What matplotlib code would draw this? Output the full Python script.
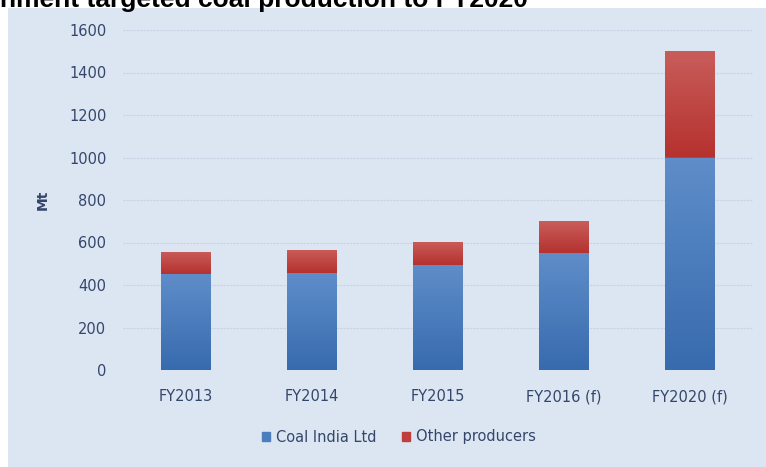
import matplotlib.pyplot as plt
import numpy as np
from matplotlib.colors import LinearSegmentedColormap
from matplotlib.patches import Patch, Rectangle

categories = ["FY2013", "FY2014", "FY2015", "FY2016 (f)", "FY2020 (f)"]
coal_india = [450, 455, 494, 550, 1000]
other_producers = [105, 110, 110, 150, 500]
y_ticks = [0, 200, 400, 600, 800, 1000, 1200, 1400, 1600]

BG = "#DCE6F2"
BLUE = "#4A7EBE"
RED = "#BF3F3C"
TEXT = "#34466B"

plt.rcParams["font.family"] = ["DejaVu Sans"]


def shade(ax, bars, top, bottom):
    # vertical gradient like the Excel fill, clipped to each bar
    cmap = LinearSegmentedColormap.from_list("g", [bottom, top])
    grad = np.linspace(0, 1, 64).reshape(-1, 1)
    for b in bars:
        x0, y0 = b.get_x(), b.get_y()
        im = ax.imshow(grad, cmap=cmap, origin="lower", aspect="auto", zorder=3,
                       extent=(x0, x0 + b.get_width(), y0, y0 + b.get_height()))
        im.set_clip_path(b)


fig = plt.figure(figsize=(7.66, 4.67), dpi=100)
fig.patch.set_facecolor("white")
fig.patches.append(Rectangle((8 / 766, 0), 1, 1 - 8 / 467, transform=fig.transFigure,
                             facecolor=BG, edgecolor="none", zorder=-10))

fig.text(0, 1 - 7 / 467, "nment targeted coal production to FY2020",
         fontsize=19, fontweight="bold", family="Liberation Sans", va="baseline", ha="left")

ax = fig.add_axes([123 / 766, 97 / 467, 630 / 766, 340 / 467])
ax.set_facecolor("none")
x = range(len(categories))
b1 = ax.bar(x, coal_india, width=0.39, color=BLUE, zorder=2, label="Coal India Ltd")
b2 = ax.bar(x, other_producers, bottom=coal_india, width=0.39, color=RED, zorder=2,
            label="Other producers")
shade(ax, b1, "#5E8DC9", "#386BAE")
shade(ax, b2, "#C95D5A", "#B5322F")

ax.set_xlim(-0.5, len(categories) - 0.5)
ax.set_ylim(0, 1600)
ax.set_yticks(y_ticks)
ax.set_xticks(list(x))
ax.set_xticklabels(categories)
ax.grid(axis="y", color="#C5D3E6", linestyle=(0, (2, 1)), linewidth=0.8, zorder=1)
for s in ax.spines.values():
    s.set_visible(False)
ax.tick_params(axis="both", length=0, colors=TEXT, labelsize=10.5)
ax.tick_params(axis="y", pad=12)
ax.tick_params(axis="x", pad=14)
ax.set_ylabel("Mt", color=TEXT, fontweight="bold", fontsize=10, labelpad=14)

handles = [Patch(color=BLUE, label="Coal India Ltd"), Patch(color=RED, label="Other producers")]
fig.legend(handles=handles, loc="center", bbox_to_anchor=(399 / 766, 1 - 437 / 467), ncol=2,
           frameon=False, fontsize=10.5, handlelength=0.55, handleheight=0.55,
           handletextpad=0.4, columnspacing=1.8, labelcolor=TEXT)

fig.savefig("out.png", dpi=100)
